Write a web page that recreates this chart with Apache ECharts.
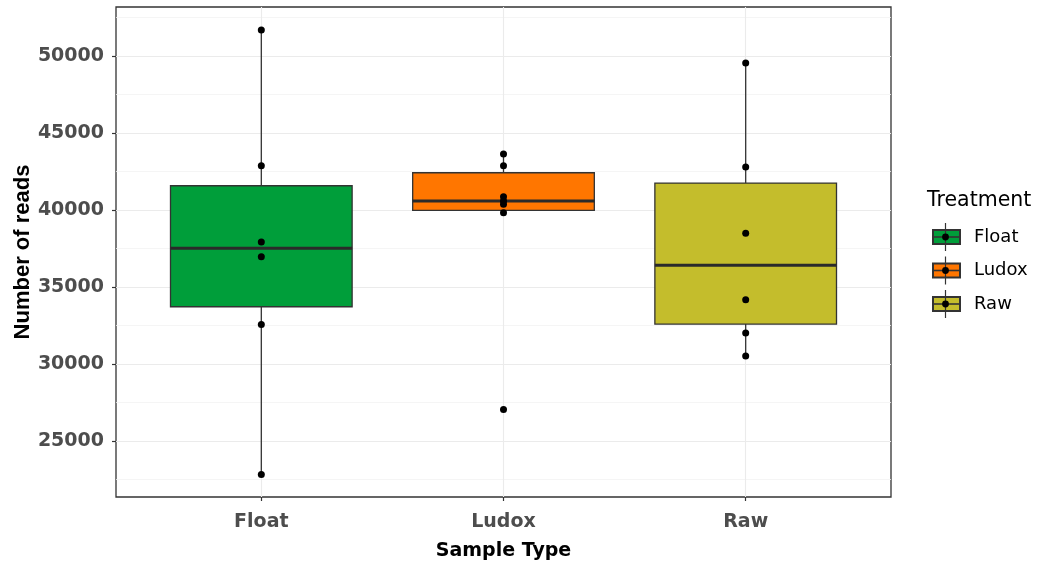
<!DOCTYPE html>
<html>
<head>
<meta charset="utf-8">
<script src="https://cdn.jsdelivr.net/npm/echarts@6/dist/echarts.min.js"></script>
<style>
  html, body { margin: 0; padding: 0; background: #ffffff; }
  #chart { width: 1038px; height: 565px; }
</style>
</head>
<body>
<div id="chart"></div>
<script>
// ---- data ----
const categories = ['Float', 'Ludox', 'Raw'];
// [lower whisker, Q1, median, Q3, upper whisker]
const boxFloat = [22835, 33720, 37512, 41578, 51688];
const boxLudox = [39824, 39980, 40584, 42420, 43636];
const boxRaw   = [30519, 32596, 36408, 41753, 49545];
// individual samples
const ptsFloat = [51688, 42877, 37921, 36966, 32576, 22835];
const ptsLudox = [43636, 42877, 40863, 40584, 40368, 39824, 27056];
const ptsRaw   = [49545, 42792, 38486, 34175, 32012, 30519];
const yMajorTicks = [25000, 30000, 35000, 40000, 45000, 50000];
const yMinorTicks = [22500, 27500, 32500, 37500, 42500, 47500, 52500];
const xTicks = [1, 2, 3];

const fillColors = ['#009E3A', '#FF7600', '#C4BD2C'];
const FONT = '"DejaVu Sans", sans-serif';
const BOX_HALF = 0.375;

const boxes = [boxFloat, boxLudox, boxRaw];
const points = [ptsFloat, ptsLudox, ptsRaw];

function renderBox(params, api) {
  const x = api.value(0);
  const lo = api.coord([x, api.value(1)]);
  const q1 = api.coord([x, api.value(2)]);
  const med = api.coord([x, api.value(3)]);
  const q3 = api.coord([x, api.value(4)]);
  const hi = api.coord([x, api.value(5)]);
  const right = api.coord([x + BOX_HALF, api.value(3)]);
  const halfW = right[0] - med[0];
  const stroke = '#333333';
  return {
    type: 'group',
    children: [
      { type: 'line', shape: { x1: hi[0], y1: hi[1], x2: q3[0], y2: q3[1] }, style: { stroke: stroke, lineWidth: 1.3 } },
      { type: 'line', shape: { x1: lo[0], y1: lo[1], x2: q1[0], y2: q1[1] }, style: { stroke: stroke, lineWidth: 1.3 } },
      { type: 'rect', shape: { x: q3[0] - halfW, y: q3[1], width: 2 * halfW, height: q1[1] - q3[1] },
        style: { fill: api.visual('color'), stroke: stroke, lineWidth: 1.3 } },
      { type: 'line', shape: { x1: med[0] - halfW, y1: med[1], x2: med[0] + halfW, y2: med[1] },
        style: { stroke: '#2a2a2a', lineWidth: 3 } }
    ]
  };
}

const series = [];
categories.forEach(function (name, i) {
  series.push({
    name: name,
    type: 'custom',
    renderItem: renderBox,
    itemStyle: { color: fillColors[i], borderColor: '#333333', borderWidth: 1 },
    encode: { x: 0, y: [1, 2, 3, 4, 5] },
    data: [[xTicks[i]].concat(boxes[i])],
    z: 2,
    silent: true
  });
});
categories.forEach(function (name, i) {
  series.push({
    name: name + ' samples',
    type: 'scatter',
    symbol: 'circle',
    symbolSize: 7,
    itemStyle: { color: '#000000', opacity: 1 },
    data: points[i].map(function (v) { return [xTicks[i], v]; }),
    z: 3,
    silent: true
  });
});

// legend layout
const legendLeft = 932, keyW = 27, keyH = 14, itemH = 18, keyStep = 33.5;
const firstCenter = 237;
const legendTop = firstCenter - itemH / 2;
const graphics = [{
  type: 'text', left: 927, top: 190,
  style: { text: 'Treatment', font: '20.5px ' + FONT, fill: '#000000' }
}];
categories.forEach(function (name, i) {
  const cy = firstCenter + i * keyStep;
  const cx = legendLeft + keyW / 2;
  graphics.push({ type: 'line', shape: { x1: cx, y1: cy - 14, x2: cx, y2: cy + 14 }, style: { stroke: '#333333', lineWidth: 1.2 }, z: 100 });
  graphics.push({ type: 'line', shape: { x1: legendLeft, y1: cy, x2: legendLeft + keyW, y2: cy }, style: { stroke: '#333333', lineWidth: 1.6 }, z: 100 });
  graphics.push({ type: 'circle', shape: { cx: cx, cy: cy, r: 3.4 }, style: { fill: '#000000' }, z: 101 });
});

const option = {
  backgroundColor: '#ffffff',
  animation: false,
  grid: {
    left: 116, right: 147, top: 7, bottom: 68,
    outerBoundsMode: 'none', containLabel: false,
    show: true, borderColor: '#333333', borderWidth: 1.3, backgroundColor: '#ffffff', z: 0
  },
  legend: {
    data: categories,
    orient: 'vertical',
    left: legendLeft, top: legendTop,
    padding: 0,
    itemWidth: keyW, itemHeight: keyH, itemGap: keyStep - itemH,
    icon: 'rect',
    selectedMode: false,
    textStyle: { fontFamily: FONT, fontSize: 18, color: '#000000', padding: [0, 0, 0, 9] }
  },
  xAxis: {
    type: 'value', min: 0.4, max: 3.6,
    name: 'Sample Type', nameLocation: 'middle', nameGap: 45, nameMoveOverlap: false,
    nameTextStyle: { fontFamily: FONT, fontSize: 19, fontWeight: 'bold', color: '#000000' },
    axisLine: { show: false },
    axisTick: { show: true, length: 4, customValues: xTicks, lineStyle: { color: '#333333', width: 1.2 } },
    axisLabel: { customValues: xTicks, margin: 16, fontFamily: FONT, fontSize: 19, fontWeight: 'bold', color: '#4D4D4D',
      formatter: function (v) { return categories[Math.round(v) - 1] || ''; } },
    splitLine: { show: true, lineStyle: { color: '#EBEBEB', width: 1.1 } }
  },
  yAxis: [{
    type: 'value', min: 21370, max: 53182,
    name: 'Number of reads', nameLocation: 'middle', nameGap: 82, nameMoveOverlap: false,
    nameTextStyle: { fontFamily: '"Liberation Sans", Arial, sans-serif', fontSize: 22, fontWeight: 'bold', color: '#000000' },
    axisLine: { show: false },
    axisTick: { show: true, length: 4, customValues: yMajorTicks, lineStyle: { color: '#333333', width: 1.2 } },
    axisLabel: { customValues: yMajorTicks, margin: 12, fontFamily: FONT, fontSize: 19, fontWeight: 'bold', color: '#4D4D4D',
      formatter: function (v) { return String(Math.round(v)); } },
    splitLine: { show: true, lineStyle: { color: '#EBEBEB', width: 1.1 } },
    z: 1
  }, {
    type: 'value', min: 21370, max: 53182, position: 'left',
    axisLine: { show: false },
    axisTick: { show: false, customValues: yMinorTicks },
    axisLabel: { show: false, customValues: yMinorTicks },
    splitLine: { show: true, lineStyle: { color: '#F2F2F2', width: 0.8 } },
    z: 0
  }],
  graphic: graphics,
  series: series
};

const chart = echarts.init(document.getElementById('chart'), null, { renderer: 'canvas' });
chart.setOption(option);
</script>
</body>
</html>
